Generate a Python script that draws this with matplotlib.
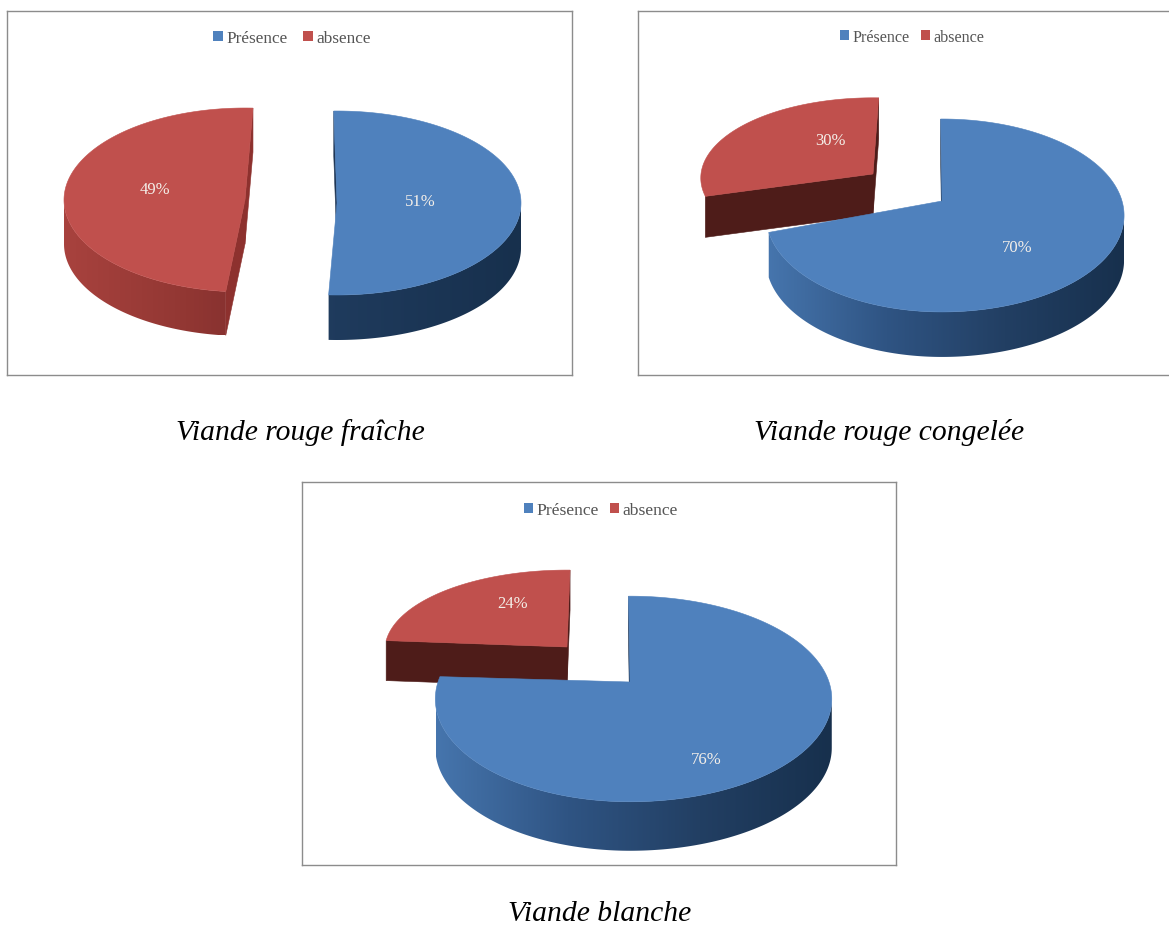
import numpy as np
import matplotlib
matplotlib.use("Agg")
import matplotlib.pyplot as plt
from matplotlib.colors import LinearSegmentedColormap
from matplotlib.patches import Patch, Polygon

# Data: share of samples (%) per meat type
categories = ["Présence", "absence"]
viande_fraiche = [51, 49]
viande_congelee = [70, 30]
viande_blanche = [76, 24]
captions = ["Viande rouge fraîche", "Viande rouge congelée", "Viande blanche"]

W, H = 1169, 928
SERIF = "Liberation Serif"
BLUE, RED = "#4f81bd", "#c0504d"

side_blue = LinearSegmentedColormap.from_list(
    "side_blue", ["#4675ad", "#2f5483", "#223f63", "#17304d"])
side_red = LinearSegmentedColormap.from_list(
    "side_red", ["#a8423e", "#923733", "#76292a", "#561c1a"])

# Layout of each chart: frame, projected pie geometry and label anchors (pixels).
# ax/ay: pie centre, rl/rr: left/right radius, k/p: vertical scale and perspective,
# shade: x range of the rim gradient, rim: whether the outer wall is drawn.
layout = [
    dict(frame=(7, 12, 572, 376), legend_xy=(292, 39), font=12.4, gap=0.85, box=0.58,
         blue=dict(ax=337, ay=204, rl=185, rr=184, k=92, p=0.0, d=45, start=91,
                   shade=(-243, 521), rim=True),
         red=dict(ax=245, ay=201, rl=181, rr=183, k=92, p=0.0, d=44, start=87.5,
                  shade=(64, 428), rim=True),
         blue_cut="#1f3655", red_cut="#8d312e",
         label_blue=(420, 202), label_red=(155, 190)),
    dict(frame=(638, 12, 1176, 376), legend_xy=(912, 38), font=11.6, gap=0.72, box=0.55,
         blue=dict(ax=942, ay=202, rl=174, rr=180, k=94.3, p=0.15, d=45, start=90.5,
                   shade=(768, 1124), rim=True),
         red=dict(ax=873, ay=175, rl=172, rr=172, k=80, p=0.05, d=41, start=88,
                  shade=(700, 1045), rim=False),
         blue_cut="#1f3655", red_cut="#4e1c19",
         label_blue=(1017, 248), label_red=(830, 141)),
    dict(frame=(302, 483, 896, 866), legend_xy=(601, 511), font=12.6, gap=0.62, box=0.5,
         blue=dict(ax=630, ay=683, rl=192, rr=199, k=100, p=0.165, d=49, start=90.5,
                   shade=(436, 832), rim=True),
         red=dict(ax=567, ay=648, rl=182, rr=182, k=80, p=0.04, d=40, start=89,
                  shade=(385, 749), rim=False),
         blue_cut="#1f3655", red_cut="#4e1c19",
         label_blue=(706, 760), label_red=(513, 604)),
]
caption_xy = [(300, 433), (889.5, 433), (600, 914.5)]


def project(theta_deg, g):
    """Map pie angles to pixels on the tilted disc."""
    t = np.radians(theta_deg)
    w = 1 + g["p"] * np.sin(t)
    c = np.cos(t)
    r = np.where(c < 0, g["rl"], g["rr"])
    return g["ax"] + r * c / w, g["ay"] - g["k"] * np.sin(t) / w


def draw_rim(ax, x, y, d, g, cmap):
    """Outer wall: a horizontal gradient clipped to the extruded arc."""
    clip = Polygon(np.column_stack([np.r_[x, x[::-1]], np.r_[y, y[::-1] + d]]),
                   transform=ax.transData, fc="none", ec="none")
    ax.add_patch(clip)
    ramp = np.linspace(0, 1, 256)[None, :]
    y_low, y_high = y.min(), y.max() + d
    img = ax.imshow(ramp, cmap=cmap, vmin=0, vmax=1, aspect="auto", interpolation="bilinear",
                    extent=(g["shade"][0], g["shade"][1], y_high, y_low), zorder=2)
    img.set_clip_path(clip)


def draw_slice(ax, value, g, direction, top_color, cmap, cut_color, end_face):
    theta = g["start"] + direction * np.linspace(0, value * 3.6, 600)
    x, y = project(theta, g)
    d = g["d"]

    # The wall shows only below the disc's left and right silhouette points
    visible = np.sin(np.radians(theta)) <= -g["p"]
    if g["rim"] and visible.any():
        draw_rim(ax, x[visible], y[visible], d, g, cmap)

    # Cut faces along the two radial edges
    apex = (g["ax"], g["ay"])
    low_apex = (g["ax"], g["ay"] + d)
    ax.add_patch(Polygon([(x[0], y[0]), apex, low_apex, (x[0], y[0] + d)],
                         fc=cut_color, ec=cut_color, lw=0.4, zorder=2.5))
    if end_face:
        ax.add_patch(Polygon([apex, (x[-1], y[-1]), (x[-1], y[-1] + d), low_apex],
                             fc=cut_color, ec=cut_color, lw=0.4, zorder=2.5))

    # Top surface
    ax.add_patch(Polygon(np.column_stack([np.r_[g["ax"], x], np.r_[g["ay"], y]]),
                         fc=top_color, ec=top_color, lw=0.4, zorder=3))


fig = plt.figure(figsize=(W / 100, H / 100), dpi=100, facecolor="white")

series = [viande_fraiche, viande_congelee, viande_blanche]
for values, cfg, caption, cap_xy in zip(series, layout, captions, caption_xy):
    x0, y0, x1, y1 = cfg["frame"]
    ax = fig.add_axes([x0 / W, 1 - y1 / H, (x1 - x0) / W, (y1 - y0) / H])
    ax.set_xticks([])
    ax.set_yticks([])
    for spine in ax.spines.values():
        spine.set_color("#8c8c8c")
        spine.set_linewidth(1.0)

    # The absence slice runs counter-clockwise, presence clockwise, from the top
    draw_slice(ax, values[1], cfg["red"], 1, RED, side_red, cfg["red_cut"], True)
    draw_slice(ax, values[0], cfg["blue"], -1, BLUE, side_blue, cfg["blue_cut"], False)
    ax.set_xlim(x0, x1)
    ax.set_ylim(y1, y0)

    for val, xy in zip(values, (cfg["label_blue"], cfg["label_red"])):
        ax.text(*xy, f"{val}%", color="#f4efe9", family=SERIF, fontsize=12,
                ha="center", va="center", zorder=5)

    handles = [Patch(fc=BLUE, ec="none"), Patch(fc=RED, ec="none")]
    ax.legend(handles, categories, loc="center", bbox_to_anchor=cfg["legend_xy"],
              bbox_transform=ax.transData, ncols=2, frameon=False,
              prop=dict(family=SERIF, size=cfg["font"]), labelcolor="#555555",
              handlelength=cfg["box"], handleheight=cfg["box"], handletextpad=0.2,
              columnspacing=cfg["gap"], borderpad=0, borderaxespad=0)

    fig.text(cap_xy[0] / W, 1 - cap_xy[1] / H, caption, family=SERIF, style="italic",
             fontsize=21.3, color="black", ha="center", va="center")

fig.savefig("out.png", dpi=100)
